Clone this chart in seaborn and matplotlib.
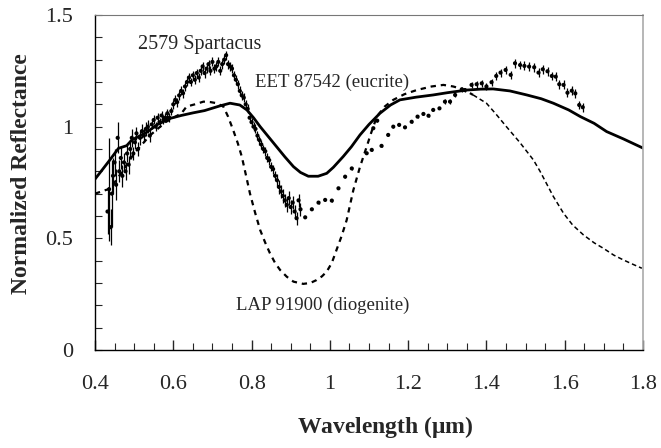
import numpy as np
import pandas as pd
import matplotlib
matplotlib.use("Agg")
import matplotlib.pyplot as plt
import seaborn as sns
from matplotlib.ticker import MultipleLocator

# ---- Data ----
# EET 87542 (eucrite) - solid line
euc_x = [0.40, 0.42, 0.438, 0.46, 0.481, 0.494, 0.532, 0.56, 0.592, 0.62, 0.651, 0.68, 0.719, 0.745,
         0.77, 0.788, 0.805, 0.822, 0.843, 0.864, 0.885, 0.907, 0.925, 0.945, 0.97, 0.992, 1.009,
         1.034, 1.055, 1.077, 1.10, 1.128, 1.155, 1.179, 1.22, 1.264, 1.30, 1.35, 1.385, 1.417,
         1.46, 1.503, 1.54, 1.571, 1.61, 1.640, 1.675, 1.707, 1.75, 1.80]
euc_y = [0.765, 0.81, 0.851, 0.903, 0.915, 0.94, 0.975, 1.01, 1.037, 1.05, 1.062, 1.072, 1.093, 1.105,
         1.097, 1.075, 1.04, 1.0, 0.955, 0.91, 0.865, 0.821, 0.795, 0.778, 0.778, 0.791, 0.818,
         0.866, 0.91, 0.963, 1.01, 1.06, 1.097, 1.12, 1.132, 1.142, 1.152, 1.164, 1.168, 1.169,
         1.16, 1.142, 1.125, 1.105, 1.075, 1.045, 1.015, 0.978, 0.945, 0.904]

# LAP 91900 (diogenite) - dashed line
dio_x = [0.40, 0.434, 0.45, 0.47, 0.50, 0.54, 0.58, 0.621, 0.634, 0.655, 0.677, 0.695, 0.711, 0.728,
         0.740, 0.753, 0.765, 0.775, 0.786, 0.796, 0.809, 0.822, 0.835, 0.847, 0.860, 0.873, 0.890,
         0.907, 0.932, 0.950, 0.966, 0.980, 0.992, 1.005, 1.017, 1.030, 1.043, 1.060, 1.077, 1.094,
         1.107, 1.12, 1.14, 1.162, 1.19, 1.222, 1.26, 1.29, 1.315, 1.341, 1.366, 1.40, 1.425, 1.451,
         1.485, 1.52, 1.537, 1.571, 1.597, 1.62, 1.648, 1.675, 1.699, 1.725, 1.75, 1.775, 1.797]
dio_y = [0.70, 0.72, 0.75, 0.80, 0.88, 0.96, 1.02, 1.06, 1.09, 1.10, 1.112, 1.11, 1.105, 1.09,
         1.045, 0.985, 0.925, 0.866, 0.78, 0.70, 0.615, 0.537, 0.48, 0.433, 0.39, 0.358, 0.328,
         0.306, 0.296, 0.30, 0.313, 0.33, 0.351, 0.39, 0.448, 0.51, 0.582, 0.716, 0.82, 0.91,
         0.98, 1.045, 1.09, 1.12, 1.145, 1.164, 1.18, 1.187, 1.18, 1.167, 1.142, 1.105, 1.055, 1.0,
         0.93, 0.851, 0.80, 0.687, 0.612, 0.56, 0.515, 0.48, 0.455, 0.425, 0.403, 0.383, 0.366]

# 2579 Spartacus - points with error bars
sp_x = [0.432, 0.436, 0.440, 0.443, 0.446, 0.450, 0.454, 0.458, 0.462, 0.466, 0.470, 0.474, 0.478,
        0.482, 0.486, 0.490, 0.494, 0.498, 0.502, 0.506, 0.510, 0.515, 0.520, 0.525, 0.530, 0.535,
        0.540, 0.545, 0.550, 0.555, 0.560, 0.565, 0.570, 0.575, 0.580, 0.585, 0.590, 0.595, 0.600,
        0.605, 0.610, 0.615, 0.620, 0.625, 0.630, 0.635, 0.640, 0.645, 0.650, 0.655, 0.660, 0.665,
        0.670, 0.675, 0.680, 0.685, 0.690, 0.695, 0.700, 0.705, 0.710, 0.715, 0.720, 0.725, 0.730,
        0.735, 0.740, 0.745, 0.750, 0.755, 0.760, 0.765, 0.770, 0.775, 0.780, 0.785, 0.790, 0.795,
        0.800, 0.805, 0.810, 0.815, 0.820, 0.825, 0.830, 0.835, 0.840, 0.845, 0.850, 0.855, 0.860,
        0.865, 0.870, 0.875, 0.880, 0.885, 0.890, 0.895, 0.900, 0.905, 0.910, 0.915, 0.920, 0.925,
        0.937, 0.954, 0.971, 0.988, 1.005, 1.022, 1.039, 1.056, 1.094, 1.107, 1.111, 1.121, 1.132,
        1.149, 1.162, 1.177, 1.192, 1.209, 1.224, 1.239, 1.252, 1.264, 1.280, 1.294, 1.307, 1.320,
        1.337, 1.345, 1.362, 1.375, 1.388, 1.400, 1.413, 1.425, 1.436, 1.449, 1.462, 1.473, 1.486,
        1.497, 1.509, 1.522, 1.533, 1.544, 1.556, 1.567, 1.577, 1.586, 1.597, 1.607, 1.618, 1.627,
        1.637, 1.646]
sp_y = [0.62, 0.72, 0.55, 0.70, 0.78, 0.84, 0.74, 0.95, 0.80, 0.86, 0.78, 0.84, 0.80,
        0.88, 0.83, 0.90, 0.95, 0.88, 0.93, 0.97, 0.90, 0.95, 0.98, 0.96, 0.99, 1.00,
        0.96, 1.01, 1.03, 1.00, 1.04, 1.02, 1.05, 1.03, 1.04, 1.06, 1.04, 1.07, 1.10,
        1.12, 1.11, 1.14, 1.16, 1.15, 1.18, 1.20, 1.22, 1.20, 1.23, 1.21, 1.24, 1.22,
        1.25, 1.27, 1.24, 1.26, 1.28, 1.25, 1.29, 1.26, 1.27, 1.29, 1.25, 1.28, 1.30,
        1.32, 1.28, 1.27, 1.26, 1.23, 1.21, 1.19, 1.16, 1.14, 1.13, 1.10, 1.08, 1.04,
        1.02, 1.00, 0.99, 0.96, 0.94, 0.92, 0.90, 0.89, 0.86, 0.85, 0.82, 0.81, 0.78,
        0.76, 0.73, 0.71, 0.69, 0.67, 0.65, 0.68, 0.64, 0.66, 0.62, 0.59, 0.67, 0.63,
        0.594, 0.63, 0.66, 0.672, 0.669, 0.724, 0.776, 0.813, 0.881, 0.896, 0.993, 1.027, 0.914,
        0.963, 1.0, 1.008, 0.997, 1.022, 1.045, 1.057, 1.049, 1.075, 1.082, 1.112, 1.112, 1.142,
        1.167, 1.164, 1.187, 1.19, 1.194, 1.18, 1.199, 1.227, 1.242, 1.254, 1.232, 1.284, 1.276,
        1.272, 1.269, 1.266, 1.242, 1.257, 1.248, 1.227, 1.224, 1.19, 1.187, 1.152, 1.161, 1.149,
        1.097, 1.087]
sp_err = [0.10, 0.23, 0.08, 0.15, 0.08, 0.06, 0.07, 0.07, 0.05, 0.05, 0.05, 0.04, 0.04,
          0.04, 0.04, 0.04, 0.04, 0.03, 0.03, 0.03, 0.03, 0.03, 0.03, 0.03, 0.03, 0.03,
          0.03, 0.02, 0.02, 0.02, 0.02, 0.02, 0.02, 0.02, 0.02, 0.02, 0.02, 0.02, 0.02,
          0.02, 0.02, 0.02, 0.02, 0.02, 0.02, 0.02, 0.02, 0.02, 0.02, 0.02, 0.02, 0.02,
          0.02, 0.02, 0.02, 0.02, 0.02, 0.02, 0.02, 0.02, 0.02, 0.02, 0.02, 0.02, 0.02,
          0.02, 0.02, 0.02, 0.02, 0.02, 0.02, 0.02, 0.02, 0.02, 0.02, 0.02, 0.02, 0.02,
          0.02, 0.02, 0.02, 0.02, 0.02, 0.02, 0.02, 0.02, 0.02, 0.02, 0.02, 0.02, 0.02,
          0.03, 0.03, 0.03, 0.03, 0.03, 0.03, 0.03, 0.03, 0.03, 0.03, 0.03, 0.03, 0.03,
          0.005, 0.005, 0.005, 0.005, 0.005, 0.005, 0.005, 0.005, 0.005, 0.005, 0.005, 0.005, 0.005,
          0.005, 0.005, 0.005, 0.005, 0.005, 0.005, 0.005, 0.005, 0.005, 0.005, 0.01, 0.01, 0.01,
          0.01, 0.01, 0.015, 0.015, 0.015, 0.015, 0.015, 0.018, 0.018, 0.018, 0.018, 0.02, 0.02,
          0.02, 0.02, 0.02, 0.02, 0.02, 0.02, 0.02, 0.02, 0.02, 0.02, 0.02, 0.02, 0.02,
          0.02, 0.02]

labels = ["2579 Spartacus", "EET 87542 (eucrite)", "LAP 91900 (diogenite)"]
x_ticks = [0.4, 0.6, 0.8, 1.0, 1.2, 1.4, 1.6, 1.8]
x_tick_labels = ["0.4", "0.6", "0.8", "1", "1.2", "1.4", "1.6", "1.8"]
y_ticks = [0, 0.5, 1.0, 1.5]
y_tick_labels = ["0", "0.5", "1", "1.5"]

# ---- Plot ----
sns.set_theme(style="white")
plt.rcParams["font.family"] = ["Liberation Serif", "DejaVu Serif"]
plt.rcParams["mathtext.fontset"] = "custom"
plt.rcParams["mathtext.rm"] = "Liberation Serif"
plt.rcParams["mathtext.bf"] = "Liberation Serif:bold"

fig = plt.figure(figsize=(6.61, 4.48), dpi=100)
ax = fig.add_axes([0.1437, 0.2188, 0.8291, 0.7477])

euc = pd.DataFrame({"x": euc_x, "y": euc_y})
dio = pd.DataFrame({"x": dio_x, "y": dio_y})
sp = pd.DataFrame({"x": sp_x, "y": sp_y, "err": sp_err})

sns.lineplot(data=euc, x="x", y="y", ax=ax, color="black", lw=2.0, sort=False)
dio_a = dio[dio["x"] <= 1.37]
dio_b = dio[dio["x"] >= 1.366]
sns.lineplot(data=dio_a, x="x", y="y", ax=ax, color="black", lw=1.6, sort=False,
             linestyle=(0, (2.4, 2.2)))
sns.lineplot(data=dio_b, x="x", y="y", ax=ax, color="black", lw=1.1, sort=False,
             linestyle=(0, (3.0, 2.0)))
ax.errorbar(sp["x"], sp["y"], yerr=sp["err"], fmt="none", ecolor="black", elinewidth=0.9,
            capsize=0)
sns.scatterplot(data=sp, x="x", y="y", ax=ax, color="black", s=9, marker="o",
                edgecolor="none")

ax.text(0.51, 1.366, labels[0], fontsize=14.5, va="center", ha="left")
ax.text(0.809, 1.20, labels[1], fontsize=13.5, va="center", ha="left")
ax.text(0.76, 0.20, labels[2], fontsize=13.5, va="center", ha="left")

ax.set_xlim(0.4, 1.8)
ax.set_ylim(0, 1.5)
ax.set_xticks(x_ticks)
ax.set_xticklabels(x_tick_labels)
ax.set_yticks(y_ticks)
ax.set_yticklabels(y_tick_labels)
ax.xaxis.set_minor_locator(MultipleLocator(0.05))
ax.yaxis.set_minor_locator(MultipleLocator(0.1))
ax.tick_params(axis="x", which="major", direction="in", length=7, width=1, labelsize=16, pad=18,
               bottom=True, top=False)
ax.tick_params(axis="x", which="minor", direction="in", length=5, width=0.8, bottom=True, top=False)
ax.tick_params(axis="y", which="major", direction="in", length=5, width=0.8, labelsize=16, pad=16,
               left=True, right=False)
ax.tick_params(axis="y", which="minor", direction="in", length=5, width=0.8, left=True, right=False)

ax.set_xlabel(r"Wavelength ($\mathbf{\mu}$m)", fontsize=17, fontweight="bold")
ax.set_ylabel("Normalized Reflectance", fontsize=17, fontweight="bold")
ax.xaxis.label.set_va("center")
ax.yaxis.label.set_va("center")
ax.xaxis.set_label_coords(0.53, -0.23)
ax.yaxis.set_label_coords(-0.135, 0.525)

for side in ["left", "bottom"]:
    ax.spines[side].set_color("black")
    ax.spines[side].set_linewidth(1.0)
ax.spines["top"].set_color("#777777")
ax.spines["top"].set_linewidth(0.8)
ax.spines["top"].set_linestyle((0, (1, 1)))
ax.spines["right"].set_color("#aaaaaa")
ax.spines["right"].set_linewidth(1.2)

fig.savefig("out.png", dpi=100)
